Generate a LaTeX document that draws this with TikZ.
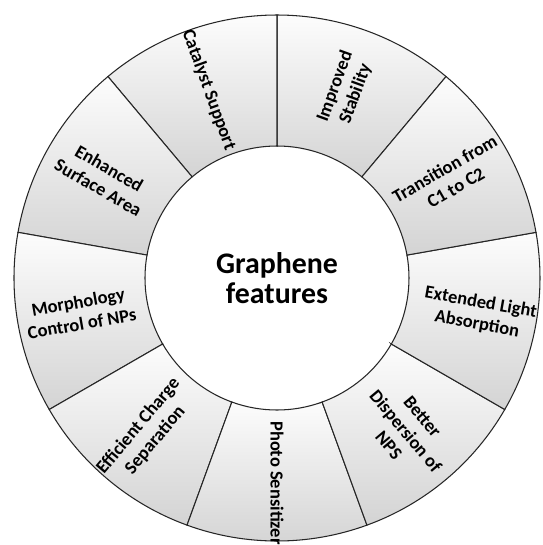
\documentclass[tikz,border=0pt]{standalone}
\usepackage{fontspec}
\setmainfont{Carlito}
\tikzset{
  seg/.style={draw=black!85, line width=0.6pt, top color=black!1, bottom color=black!17},
  lbl/.style={font=\bfseries\fontsize{10.5}{12.5}\selectfont, align=center, inner sep=0pt}
}

\begin{document}
\begin{tikzpicture}
\useasboundingbox (-5.54,-5.34) rectangle (5.30,5.56);
\draw[seg] (50:2.64) -- (50:5.26) arc (50:90:5.26) -- (90:2.64) arc (90:50:2.64) -- cycle;
\draw[seg] (90:2.64) -- (90:5.26) arc (90:130:5.26) -- (130:2.64) arc (130:90:2.64) -- cycle;
\draw[seg] (130:2.64) -- (130:5.26) arc (130:170:5.26) -- (170:2.64) arc (170:130:2.64) -- cycle;
\draw[seg] (170:2.64) -- (170:5.26) arc (170:210:5.26) -- (210:2.64) arc (210:170:2.64) -- cycle;
\draw[seg] (210:2.64) -- (210:5.26) arc (210:250:5.26) -- (250:2.64) arc (250:210:2.64) -- cycle;
\draw[seg] (250:2.64) -- (250:5.26) arc (250:290:5.26) -- (290:2.64) arc (290:250:2.64) -- cycle;
\draw[seg] (290:2.64) -- (290:5.26) arc (290:330:5.26) -- (330:2.64) arc (330:290:2.64) -- cycle;
\draw[seg] (330:2.64) -- (330:5.26) arc (330:370:5.26) -- (370:2.64) arc (370:330:2.64) -- cycle;
\draw[seg] (10:2.64) -- (10:5.26) arc (10:50:5.26) -- (50:2.64) arc (50:10:2.64) -- cycle;
\node[lbl, rotate=70] (stability) at (70:4.0) {Improved\\Stability};
\node[lbl, rotate=-70] (catalyst) at (110:4.0) {Catalyst Support};
\node[lbl, rotate=-30] (surface) at (150:4.0) {Enhanced\\Surface Area};
\node[lbl, rotate=10] (morphology) at (190:4.0) {Morphology\\Control of NPs};
\node[lbl, rotate=50] (separation) at (230:4.05) {Efficient Charge\\Separation};
\node[lbl, rotate=-90] (sensitizer) at (270:4.1) {Photo Sensitizer};
\node[lbl, rotate=-50] (dispersion) at (310:4.0) {Better\\Dispersion of\\NPS};
\node[lbl, rotate=-10] (absorption) at (350:4.1) {Extended Light\\Absorption};
\node[lbl, rotate=30] (transition) at (30:4.0) {Transition from\\C1 to C2};
\node[font=\bfseries\fontsize{17}{17}\selectfont, align=center] (graphene) at (0,0) {Graphene\\features};
\end{tikzpicture}
\end{document}
